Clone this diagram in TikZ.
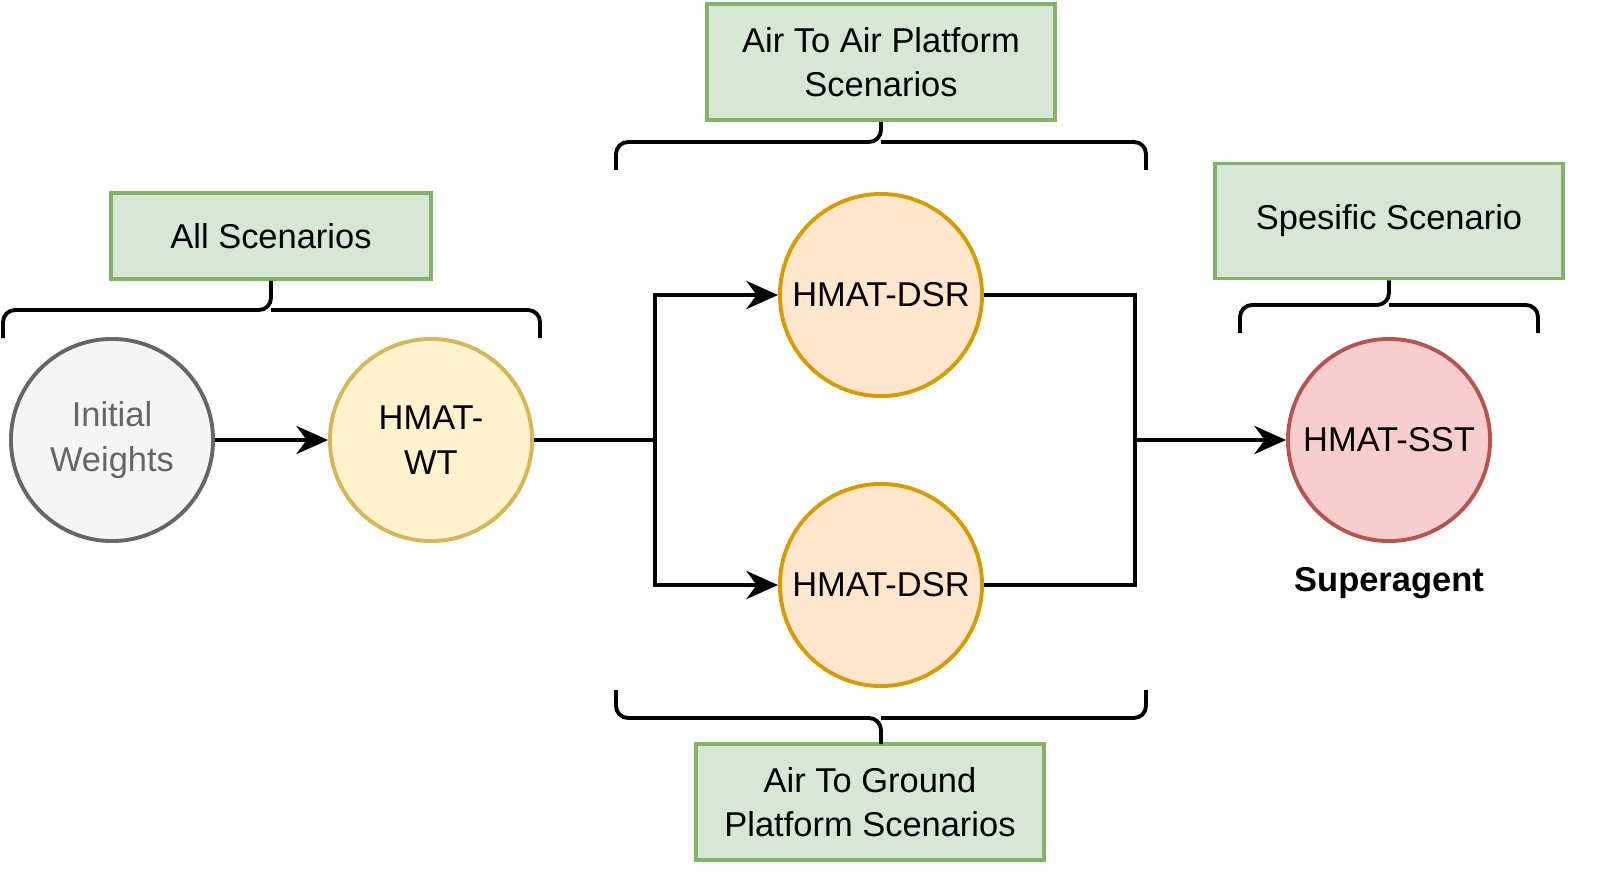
\documentclass[tikz,border=0pt]{standalone}
\usepackage{fontspec}
\setmainfont{Liberation Sans}
\usetikzlibrary{positioning,arrows.meta}
\definecolor{grayfill}{HTML}{F5F5F5}\definecolor{graydraw}{HTML}{666666}
\definecolor{yelfill}{HTML}{FFF2CC}\definecolor{yeldraw}{HTML}{D6B656}
\definecolor{orafill}{HTML}{FFE6CC}\definecolor{oradraw}{HTML}{D79B00}
\definecolor{redfill}{HTML}{F8CECC}\definecolor{reddraw}{HTML}{B85450}
\definecolor{grnfill}{HTML}{D5E8D4}\definecolor{grndraw}{HTML}{82B366}
\begin{document}
\begin{tikzpicture}[x=0.01cm,y=-0.01cm,>={Stealth[length=9pt,width=8pt]},line width=1.2pt,
    font=\fontsize{9.8}{12.6}\selectfont,
    stage node/.style={circle,draw,line width=1.1pt,minimum size=2.02cm,inner sep=0pt,align=center},
    group box/.style={rectangle,draw=grndraw,fill=grnfill,line width=1.1pt,align=center,inner sep=0pt},
    bracket/.style={draw,line width=1.1pt,rounded corners=0.12cm}]
                \node[stage node,draw=graydraw,fill=grayfill,text=graydraw] (init) at (112,440) {Initial\\Weights};
                \node[stage node,draw=yeldraw,fill=yelfill] (wt) at (431,440) {HMAT-\\WT};
                \node[stage node,draw=oradraw,fill=orafill] (dsr1) at (881,295) {HMAT-DSR};
                \node[stage node,draw=oradraw,fill=orafill] (dsr2) at (881,585) {HMAT-DSR};
                \node[stage node,draw=reddraw,fill=redfill] (sst) at (1389,440) {HMAT-SST};
                \node[font=\fontsize{9.8}{12.6}\selectfont\bfseries] (super) at (1389,583) {Superagent};

                \node[group box,minimum width=3.2cm,minimum height=0.86cm] (all) at (271,236) {All Scenarios};
                \node[group box,minimum width=3.48cm,minimum height=1.16cm] (a2a) at (881,62) {Air To Air Platform\\Scenarios};
                \node[group box,minimum width=3.48cm,minimum height=1.15cm] (spec) at (1389,221) {Spesific Scenario};
                \node[group box,minimum width=3.48cm,minimum height=1.16cm] (a2g) at (870,802) {Air To Ground\\Platform Scenarios};

                \coordinate (split) at (655,440);
                \coordinate (join) at (1135,440);

                % braces
                \path[bracket] (3,338) -- (3,310) -- (271,310) -- (all.south);
                \path[bracket] (540,338) -- (540,310) -- (271,310);
                \path[bracket] (616,170) -- (616,142) -- (881,142) -- (a2a.south);
                \path[bracket] (1146,170) -- (1146,142) -- (881,142);
                \path[bracket] (1240,333) -- (1240,305) -- (1389,305) -- (spec.south);
                \path[bracket] (1538,333) -- (1538,305) -- (1389,305);
                \path[bracket] (616,690) -- (616,718) -- (881,718) -- (881,744);
                \path[bracket] (1146,690) -- (1146,718) -- (881,718);

                \draw[->] (init) -- (wt);
                \draw (wt) -- (split);
                \draw[->] (split) |- (dsr1);
                \draw[->] (split) |- (dsr2);
                \draw (dsr1) -| (join);
                \draw (dsr2) -| (join);
                \draw[->] (join) -- (sst);

                \pgfresetboundingbox
                \useasboundingbox (0,0) rectangle (1600,888);
\end{tikzpicture}
\end{document}
